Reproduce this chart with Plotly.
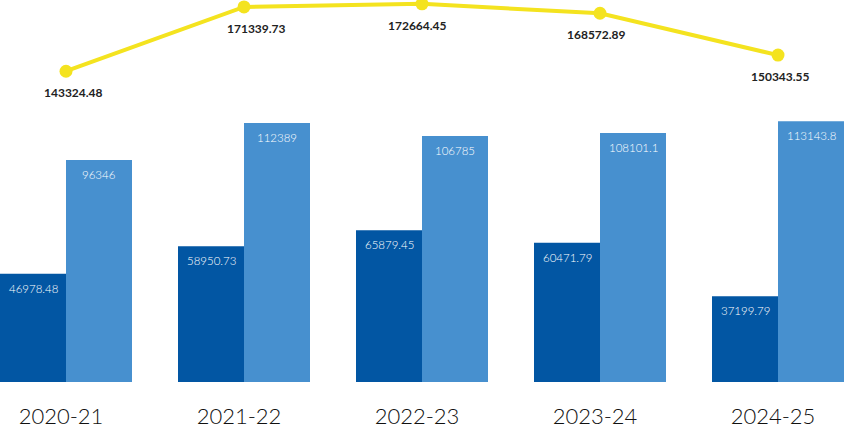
import plotly.graph_objects as go

categories = ["2020-21", "2021-22", "2022-23", "2023-24", "2024-25"]
series_dark = [46978.48, 58950.73, 65879.45, 60471.79, 37199.79]
series_light = [96346, 112389, 106785, 108101.1, 113143.8]
series_total = [143324.48, 171339.73, 172664.45, 168572.89, 150343.55]

DARK = "#0256A3"
LIGHT = "#4790CF"
YELLOW = "#F4E31F"
FONT = "Lato"
TOTAL_LABEL_DX = [7, 12, -5, -4, 2]  # label nudges (px), style only

BARGAP = 0.2584
half = (1 - BARGAP) / 2  # width of one bar in category units


def fmt(v):
    return str(int(v)) if v == int(v) else str(v)


fig = go.Figure()
fig.add_trace(go.Bar(x=categories, y=series_dark, marker_color=DARK, marker_line_width=0,
                     name="A", hoverinfo="skip"))
fig.add_trace(go.Bar(x=categories, y=series_light, marker_color=LIGHT, marker_line_width=0,
                     name="B", hoverinfo="skip"))
fig.add_trace(go.Scatter(x=categories, y=series_total, yaxis="y2", mode="lines+markers",
                         line=dict(color=YELLOW, width=4), cliponaxis=False,
                         marker=dict(color=YELLOW, size=13), name="Total", hoverinfo="skip"))

annotations = []
for i, (d, l, t) in enumerate(zip(series_dark, series_light, series_total)):
    annotations.append(dict(x=i - half / 2, y=d, xref="x", yref="y", text=fmt(d),
                            showarrow=False, yanchor="middle", yshift=-14.5,
                            font=dict(family=FONT, size=11.5, color="white", weight=300)))
    annotations.append(dict(x=i + half / 2, y=l, xref="x", yref="y", text=fmt(l),
                            showarrow=False, yanchor="middle", yshift=-14.5,
                            font=dict(family=FONT, size=11.5, color="white", weight=300)))
    annotations.append(dict(x=i, y=t, xref="x", yref="y2", text=f"{t:.2f}",
                            showarrow=False, yanchor="middle", yshift=-21.5,
                            xshift=TOTAL_LABEL_DX[i],
                            font=dict(family=FONT, size=12, color="#222222", weight=700)))

fig.update_layout(
    width=844, height=430,
    margin=dict(l=0, r=0, t=0, b=48),
    paper_bgcolor="white", plot_bgcolor="white",
    barmode="group", bargap=BARGAP, bargroupgap=0,
    showlegend=False,
    annotations=annotations,
    xaxis=dict(type="category", range=[-0.3708, 4.3708], showgrid=False, zeroline=False,
               showline=False, ticks="", tickfont=dict(family=FONT, size=22, color="#111111", weight=300),
               ticklabelstandoff=19, ticklabelshift=-5),
    yaxis=dict(range=[0, 165800], showgrid=False, zeroline=False, showline=False,
               showticklabels=False),
    yaxis2=dict(range=[7999, 174348], overlaying="y", side="right", showgrid=False,
                zeroline=False, showline=False, showticklabels=False),
)

fig.write_html("out.html", config={"displayModeBar": False},
               post_script="document.body.style.margin='0';")
